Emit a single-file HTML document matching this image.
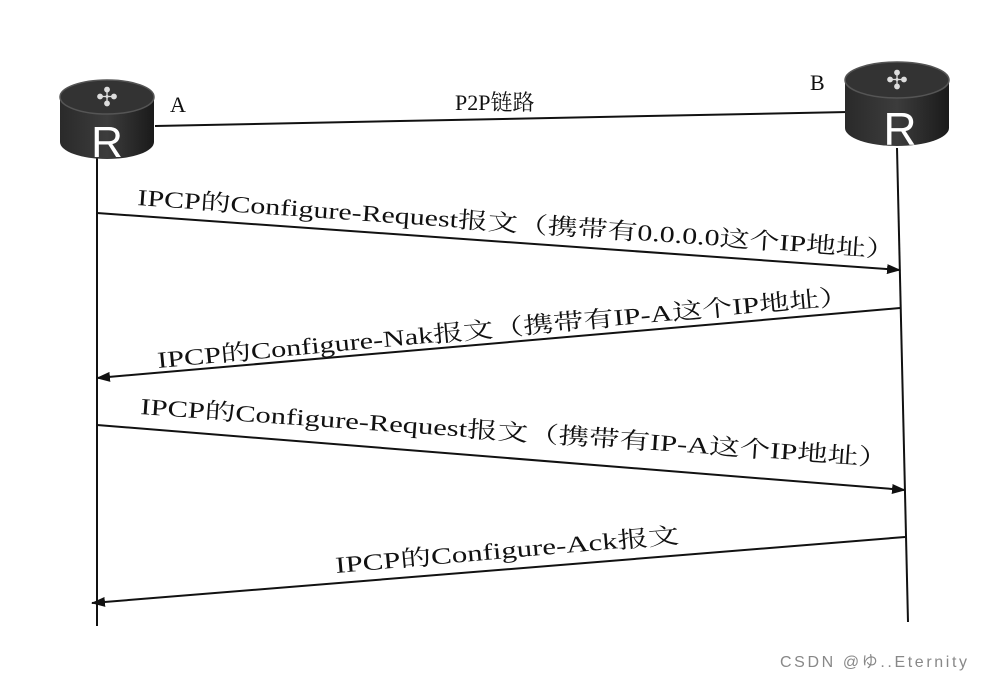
<!DOCTYPE html>
<html><head><meta charset="utf-8"><style>
html,body{margin:0;padding:0;background:#fff;}
svg{display:block}
text{font-family:"Liberation Serif","Noto Serif CJK SC",serif;fill:#111;}
</style></head><body>
<svg width="982" height="680" viewBox="0 0 982 680" xmlns="http://www.w3.org/2000/svg">
<defs>
<marker id="ar" markerWidth="14" markerHeight="10" refX="13" refY="5" orient="auto" markerUnits="userSpaceOnUse">
<path d="M0,0 L14,5 L0,10 Z" fill="#111"/></marker>
<linearGradient id="g" x1="0" x2="1"><stop offset="0" stop-color="#2a2a2a"/><stop offset="0.5" stop-color="#3c3c3c"/><stop offset="1" stop-color="#1a1a1a"/></linearGradient>
</defs>
<rect width="982" height="680" fill="#fff"/>
<line x1="155" y1="126" x2="848" y2="112" stroke="#111" stroke-width="2"/>
<text x="455" y="110" font-size="22">P2P链路</text>
<text x="170" y="112" font-size="22">A</text>
<text x="810" y="90" font-size="22">B</text>
<line x1="97" y1="158" x2="97" y2="626" stroke="#111" stroke-width="2"/>
<line x1="897" y1="148" x2="908" y2="622" stroke="#111" stroke-width="2"/>
<g>
<path d="M60,97 L60,142 A47,17 0 0 0 154,142 L154,97 Z" fill="url(#g)"/>
<ellipse cx="107" cy="97" rx="47" ry="17" fill="#333" stroke="#555" stroke-width="1.5"/>
<text x="107" y="106" font-size="26" text-anchor="middle" style="fill:#ddd">✣</text>
<text x="107" y="157" font-size="44" text-anchor="middle" style="fill:#fff;font-family:'Liberation Sans',sans-serif">R</text>
</g>
<g>
<path d="M845,80 L845,128 A52,18 0 0 0 949,128 L949,80 Z" fill="url(#g)"/>
<ellipse cx="897" cy="80" rx="52" ry="18" fill="#333" stroke="#555" stroke-width="1.5"/>
<text x="897" y="89" font-size="26" text-anchor="middle" style="fill:#ddd">✣</text>
<text x="900" y="145" font-size="46" text-anchor="middle" style="fill:#fff;font-family:'Liberation Sans',sans-serif">R</text>
</g>
<line x1="97" y1="213" x2="900" y2="270" stroke="#111" stroke-width="2" marker-end="url(#ar)"/>
<line x1="900" y1="308" x2="97" y2="378" stroke="#111" stroke-width="2" marker-end="url(#ar)"/>
<line x1="97" y1="425" x2="905" y2="490" stroke="#111" stroke-width="2" marker-end="url(#ar)"/>
<line x1="905" y1="537" x2="92" y2="603" stroke="#111" stroke-width="2" marker-end="url(#ar)"/>
<text x="137" y="205" font-size="23" textLength="760" lengthAdjust="spacingAndGlyphs" transform="rotate(4 137 205)">IPCP的Configure-Request报文（携带有0.0.0.0这个IP地址）</text>
<text x="158" y="368" font-size="23" textLength="695" lengthAdjust="spacingAndGlyphs" transform="rotate(-5.3 158 368)">IPCP的Configure-Nak报文（携带有IP-A这个IP地址）</text>
<text x="140" y="414" font-size="23" textLength="750" lengthAdjust="spacingAndGlyphs" transform="rotate(4 140 414)">IPCP的Configure-Request报文（携带有IP-A这个IP地址）</text>
<text x="336" y="573" font-size="23" textLength="345" lengthAdjust="spacingAndGlyphs" transform="rotate(-5 336 573)">IPCP的Configure-Ack报文</text>
<text x="780" y="667" font-size="16" textLength="187" style="fill:#888;font-family:'Liberation Sans','Noto Sans CJK JP',sans-serif">CSDN @ゆ..Eternity</text>
</svg>
</body></html>
